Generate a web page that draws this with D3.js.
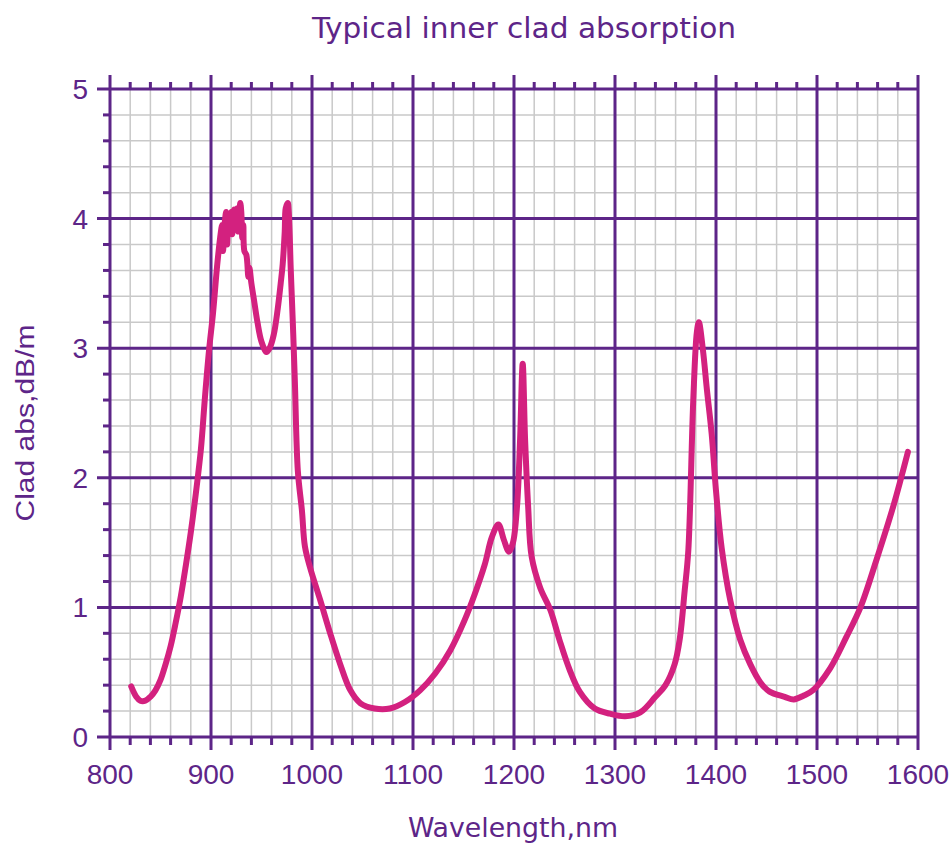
<!DOCTYPE html>
<html>
<head>
<meta charset="utf-8">
<script src="https://cdn.jsdelivr.net/npm/d3@7"></script>
<style>
  body { margin: 0; background: #fff; }
  svg { display: block; }
</style>
</head>
<body>
<div id="chart"></div>
<script>
// wavelength (nm) and clad absorption (dB/m)
const wavelength = [821, 826, 830, 835, 840, 845, 850, 855, 860, 865, 870, 875, 880, 885, 890, 894, 898, 902, 906,
  909, 911, 912, 913, 915, 916, 917, 918, 920, 921, 923, 924, 926, 927, 929, 930, 931, 932, 933, 935, 937, 938, 940,
  943, 946, 950, 955, 958, 962, 966, 969, 971, 973, 974, 976, 977, 979, 981, 983, 986, 990, 993, 998, 1008, 1018,
  1028, 1038, 1048, 1062, 1077, 1092, 1107, 1122, 1137, 1151, 1161, 1171, 1178, 1184.5, 1190, 1195, 1199, 1203,
  1206, 1208.6, 1211, 1214, 1217.5, 1226, 1236, 1245, 1255, 1265, 1280, 1295, 1310, 1325, 1340, 1350, 1359, 1364,
  1369, 1372.6, 1377.5, 1381, 1383, 1387, 1391, 1395.7, 1400, 1405.6, 1414, 1424, 1434, 1444, 1453, 1468, 1477,
  1487, 1496, 1513, 1529, 1543, 1559, 1575.5, 1590];
const absorption = [0.39, 0.31, 0.28, 0.28, 0.31, 0.36, 0.44, 0.56, 0.70, 0.88, 1.08, 1.32, 1.58, 1.88, 2.22, 2.62,
  2.98, 3.27, 3.63, 3.85, 3.95, 3.75, 3.92, 4.05, 3.80, 4.02, 3.90, 4.05, 3.88, 4.07, 3.95, 4.08, 3.90, 4.12, 4.05,
  3.85, 3.95, 3.75, 3.72, 3.55, 3.62, 3.50, 3.35, 3.20, 3.05, 2.97, 3.00, 3.10, 3.30, 3.50, 3.65, 3.90, 4.08, 4.12,
  4.05, 3.60, 3.20, 2.75, 2.05, 1.75, 1.47, 1.31, 1.06, 0.80, 0.56, 0.36, 0.26, 0.22, 0.22, 0.27, 0.36, 0.49, 0.67,
  0.90, 1.10, 1.33, 1.54, 1.64, 1.52, 1.43, 1.50, 1.78, 2.29, 2.88, 2.29, 1.78, 1.39, 1.15, 0.98, 0.75, 0.52, 0.35,
  0.22, 0.18, 0.16, 0.19, 0.31, 0.40, 0.56, 0.75, 1.13, 1.44, 2.60, 3.12, 3.20, 2.99, 2.68, 2.34, 1.90, 1.46, 1.06,
  0.75, 0.56, 0.42, 0.35, 0.31, 0.29, 0.32, 0.36, 0.53, 0.77, 1.00, 1.37, 1.78, 2.20];
const xTicks = [800, 900, 1000, 1100, 1200, 1300, 1400, 1500, 1600];
const yTicks = [0, 1, 2, 3, 4, 5];

const width = 952, height = 845;
const margin = {top: 89, right: 34, bottom: 108, left: 110};
const purple = "#5d2588";
const magenta = "#d3217f";

const svg = d3.select("#chart").append("svg")
  .attr("width", width)
  .attr("height", height);

const x = d3.scaleLinear().domain([800, 1600]).range([margin.left, width - margin.right]);
const y = d3.scaleLinear().domain([0, 5]).range([height - margin.bottom, margin.top]);

const x0 = x(800), x1 = x(1600), y0 = y(0), y1 = y(5);

// minor grid
const xMinor = d3.range(820, 1600, 20).filter(v => v % 100 !== 0);
const yMinor = d3.range(0.2, 5, 0.2).filter(v => Math.abs(v - Math.round(v)) > 0.01);

const grid = svg.append("g");
grid.selectAll(".vminor").data(xMinor).enter().append("line")
  .attr("x1", d => x(d)).attr("x2", d => x(d))
  .attr("y1", y1).attr("y2", y0)
  .attr("stroke", "#c9c9c9").attr("stroke-width", 1.5);
grid.selectAll(".hminor").data(yMinor).enter().append("line")
  .attr("x1", x0).attr("x2", x1)
  .attr("y1", d => y(d)).attr("y2", d => y(d))
  .attr("stroke", "#c9c9c9").attr("stroke-width", 1.5);

// minor tick marks (outside top, left, bottom)
const ticks = svg.append("g").attr("stroke", purple).attr("stroke-width", 3);
ticks.selectAll(".tt").data(xMinor).enter().append("line")
  .attr("x1", d => x(d)).attr("x2", d => x(d))
  .attr("y1", y1 - 7).attr("y2", y1);
ticks.selectAll(".bt").data(xMinor).enter().append("line")
  .attr("x1", d => x(d)).attr("x2", d => x(d))
  .attr("y1", y0).attr("y2", y0 + 8);
ticks.selectAll(".lt").data(yMinor).enter().append("line")
  .attr("x1", x0 - 7).attr("x2", x0)
  .attr("y1", d => y(d)).attr("y2", d => y(d));

// major grid lines, extended past the frame
const major = svg.append("g").attr("stroke", purple).attr("stroke-width", 3);
major.selectAll(".vmaj").data(xTicks).enter().append("line")
  .attr("x1", d => x(d)).attr("x2", d => x(d))
  .attr("y1", y1 - 14).attr("y2", y0 + 13);
major.selectAll(".hmaj").data(yTicks).enter().append("line")
  .attr("x1", x0 - 13).attr("x2", x1)
  .attr("y1", d => y(d)).attr("y2", d => y(d));

// tick labels
svg.append("g").selectAll("text").data(xTicks).enter().append("text")
  .attr("x", d => x(d)).attr("y", y0 + 47)
  .attr("text-anchor", "middle")
  .attr("font-family", "Liberation Sans, Arial, sans-serif")
  .attr("font-size", 28)
  .attr("fill", purple)
  .text(d => d);

svg.append("g").selectAll("text").data(yTicks).enter().append("text")
  .attr("x", 88).attr("y", d => y(d) + 10)
  .attr("text-anchor", "end")
  .attr("font-family", "Liberation Sans, Arial, sans-serif")
  .attr("font-size", 28)
  .attr("fill", purple)
  .text(d => d);

// the absorption curve
const data = wavelength.map((w, i) => ({w: w, a: absorption[i]}));
const line = d3.line()
  .x(d => x(d.w))
  .y(d => y(d.a))
  .curve(d3.curveCatmullRom.alpha(0.5));

svg.append("path")
  .datum(data)
  .attr("d", line)
  .attr("fill", "none")
  .attr("stroke", magenta)
  .attr("stroke-width", 6)
  .attr("stroke-linejoin", "round")
  .attr("stroke-linecap", "round");

// titles
svg.append("text")
  .attr("x", 524).attr("y", 38)
  .attr("text-anchor", "middle")
  .attr("font-family", "DejaVu Sans Condensed, Liberation Sans Narrow, sans-serif")
  .attr("font-size", 28)
  .attr("textLength", 424).attr("lengthAdjust", "spacingAndGlyphs")
  .attr("fill", purple)
  .text("Typical inner clad absorption");

svg.append("text")
  .attr("x", 513).attr("y", 837)
  .attr("text-anchor", "middle")
  .attr("font-family", "DejaVu Sans Condensed, Liberation Sans Narrow, sans-serif")
  .attr("font-size", 27)
  .attr("textLength", 210).attr("lengthAdjust", "spacingAndGlyphs")
  .attr("fill", purple)
  .text("Wavelength,nm");

svg.append("text")
  .attr("transform", "translate(34,423) rotate(-90)")
  .attr("text-anchor", "middle")
  .attr("font-family", "Liberation Sans, Arial, sans-serif")
  .attr("font-size", 26)
  .attr("textLength", 197).attr("lengthAdjust", "spacingAndGlyphs")
  .attr("fill", purple)
  .text("Clad abs,dB/m");
</script>
</body>
</html>
